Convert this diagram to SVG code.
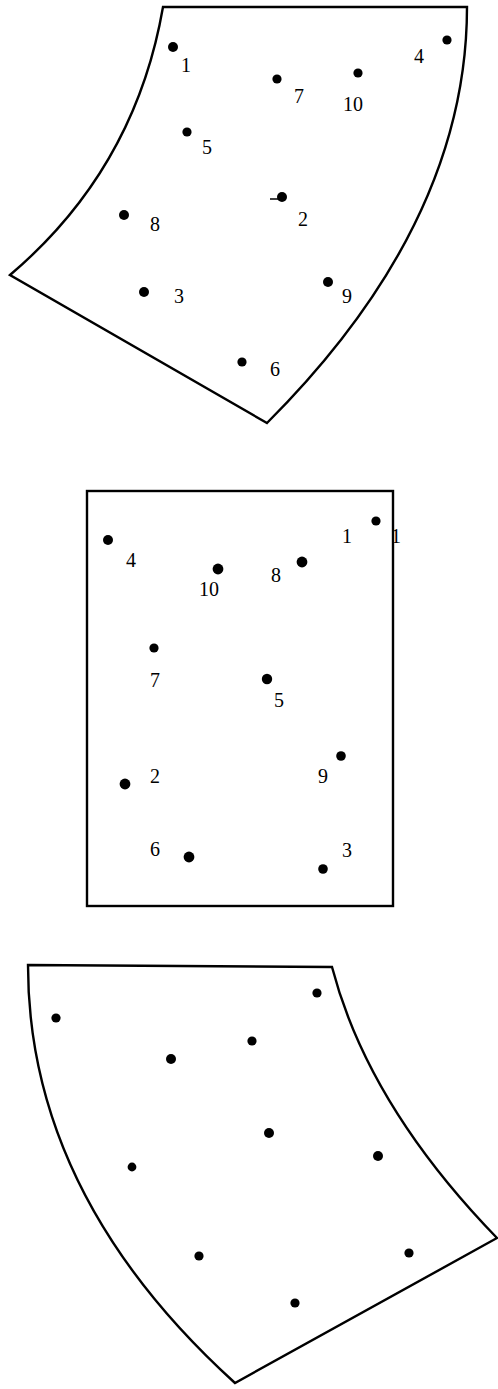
<svg xmlns="http://www.w3.org/2000/svg" width="498" height="1389" viewBox="0 0 498 1389">
<style>
.edge{fill:none;stroke:#000;stroke-width:2.4;stroke-linejoin:miter}
.dot{fill:#000}
.lbl{font-family:"Liberation Serif","Times New Roman",serif;font-size:20px;fill:#000;text-anchor:middle}
</style>
<rect width="498" height="1389" fill="#fff"/>
<g id="top-panel">
<path class="edge" d="M163,7 L467,7 Q467,223 267,423 L10,275 Q135,169 163,7 Z"/>
<g id="top-points">
<circle class="dot" cx="173" cy="47" r="5"/>
<circle class="dot" cx="447" cy="40" r="4.6"/>
<circle class="dot" cx="277" cy="79" r="4.6"/>
<circle class="dot" cx="358" cy="73" r="4.6"/>
<circle class="dot" cx="187" cy="132" r="4.6"/>
<circle class="dot" cx="282" cy="197" r="5"/>
<path d="M270,199 L278,199" stroke="#000" stroke-width="1.5"/>
<circle class="dot" cx="124" cy="215" r="5"/>
<circle class="dot" cx="144" cy="292" r="5"/>
<circle class="dot" cx="328" cy="282" r="5"/>
<circle class="dot" cx="242" cy="362" r="4.6"/>
</g>
<g id="top-labels">
<text class="lbl" x="186" y="72">1</text>
<text class="lbl" x="419" y="63">4</text>
<text class="lbl" x="299" y="103">7</text>
<text class="lbl" x="353" y="111">10</text>
<text class="lbl" x="207" y="154">5</text>
<text class="lbl" x="303" y="226">2</text>
<text class="lbl" x="155" y="231">8</text>
<text class="lbl" x="179" y="303">3</text>
<text class="lbl" x="347" y="303">9</text>
<text class="lbl" x="275" y="376">6</text>
</g>
</g>
<g id="middle-panel">
<rect class="edge" x="87" y="491" width="306" height="415"/>
<g id="middle-points">
<circle class="dot" cx="108" cy="540" r="5"/>
<circle class="dot" cx="218" cy="569" r="5.4"/>
<circle class="dot" cx="302" cy="562" r="5.4"/>
<circle class="dot" cx="376" cy="521" r="4.6"/>
<circle class="dot" cx="154" cy="648" r="4.6"/>
<circle class="dot" cx="267" cy="679" r="5.2"/>
<circle class="dot" cx="341" cy="756" r="4.8"/>
<circle class="dot" cx="125" cy="784" r="5.4"/>
<circle class="dot" cx="189" cy="857" r="5.4"/>
<circle class="dot" cx="323" cy="869" r="4.8"/>
</g>
<g id="middle-labels">
<text class="lbl" x="131" y="567">4</text>
<text class="lbl" x="209" y="596">10</text>
<text class="lbl" x="276" y="582">8</text>
<text class="lbl" x="347" y="543">1</text>
<text class="lbl" x="396" y="543">1</text>
<text class="lbl" x="155" y="687">7</text>
<text class="lbl" x="279" y="707">5</text>
<text class="lbl" x="323" y="783">9</text>
<text class="lbl" x="155" y="783">2</text>
<text class="lbl" x="155" y="856">6</text>
<text class="lbl" x="347" y="857">3</text>
</g>
</g>
<g id="bottom-panel">
<path class="edge" d="M28,965 L332,967 Q368,1105 497,1238 L235,1383 Q28,1195 28,965 Z"/>
<g id="bottom-points">
<circle class="dot" cx="317" cy="993" r="4.6"/>
<circle class="dot" cx="56" cy="1018" r="4.6"/>
<circle class="dot" cx="252" cy="1041" r="4.6"/>
<circle class="dot" cx="171" cy="1059" r="5"/>
<circle class="dot" cx="269" cy="1133" r="5"/>
<circle class="dot" cx="378" cy="1156" r="5"/>
<circle class="dot" cx="132" cy="1167" r="4.4"/>
<circle class="dot" cx="199" cy="1256" r="4.6"/>
<circle class="dot" cx="409" cy="1253" r="4.6"/>
<circle class="dot" cx="295" cy="1303" r="4.6"/>
</g>
</g>
</svg>
